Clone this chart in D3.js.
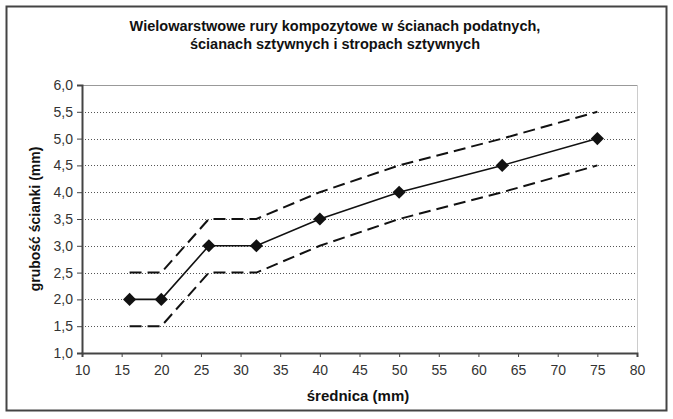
<!DOCTYPE html>
<html><head><meta charset="utf-8">
<script src="https://cdn.jsdelivr.net/npm/d3@7"></script>
<style>body{margin:0;background:#fff}svg{display:block}text{font-family:"Liberation Sans",Arial,sans-serif}</style>
</head><body><svg id="c" width="673" height="419"></svg>
<script>
const titleLines = ["Wielowarstwowe rury kompozytowe w ścianach podatnych,", "ścianach sztywnych i stropach sztywnych"];
const xLabel = "średnica (mm)";
const yLabel = "grubość ścianki (mm)";
const diameters = [16, 20, 26, 32, 40, 50, 63, 75];
const thickness = [2.0, 2.0, 3.0, 3.0, 3.5, 4.0, 4.5, 5.0];
const upperBound = [2.5, 2.5, 3.5, 3.5, 4.0, 4.5, 5.0, 5.5];
const lowerBound = [1.5, 1.5, 2.5, 2.5, 3.0, 3.5, 4.0, 4.5];
const xTicks = [10,15,20,25,30,35,40,45,50,55,60,65,70,75,80];
const yTicks = [1.0,1.5,2.0,2.5,3.0,3.5,4.0,4.5,5.0,5.5,6.0];

const svg = d3.select("#c");
const L = 82, R = 637, T = 85, B = 353;
const x = d3.scaleLinear().domain([10, 80]).range([L, R]);
const y = d3.scaleLinear().domain([1, 6]).range([B, T]);
const fmt = d => d.toFixed(1).replace(".", ",");

// outer frame
svg.append("rect").attr("x", 6.5).attr("y", 6.5).attr("width", 660).attr("height", 404)
  .attr("fill", "#fff").attr("stroke", "#444").attr("stroke-width", 2);

// title
const tt = svg.append("text").attr("text-anchor", "middle").attr("font-weight", "bold")
  .attr("font-size", 14.5).attr("fill", "#111");
titleLines.forEach((t, i) => tt.append("tspan").attr("x", 335).attr("y", 31 + i * 18).text(t));

// plot border (top/right)
svg.append("line").attr("x1", L).attr("x2", R).attr("y1", T + 0.5).attr("y2", T + 0.5).attr("stroke", "#999");
svg.append("line").attr("x1", R + 0.5).attr("x2", R + 0.5).attr("y1", T).attr("y2", B).attr("stroke", "#ccc");

// grid
svg.append("g").selectAll("line").data(yTicks.filter(v => v > 1 && v < 6)).join("line")
  .attr("x1", L).attr("x2", R).attr("y1", d => Math.round(y(d)) + 0.5).attr("y2", d => Math.round(y(d)) + 0.5)
  .attr("stroke", "#555").attr("stroke-width", 1).attr("stroke-dasharray", "1,2");

// axes
const gx = svg.append("g").attr("transform", `translate(0,${B})`)
  .call(d3.axisBottom(x).tickValues(xTicks).tickSize(4).tickPadding(8).tickFormat(d3.format("d")));
const gy = svg.append("g").attr("transform", `translate(${L},0)`)
  .call(d3.axisLeft(y).tickValues(yTicks).tickSize(5).tickPadding(4).tickFormat(fmt));
[gx, gy].forEach(g => {
  g.select(".domain").attr("stroke", "#444").attr("stroke-width", 2);
  g.selectAll(".tick line").attr("stroke", "#444");
  g.selectAll(".tick text").attr("font-size", 14).attr("fill", "#333")
    .attr("font-family", "'Liberation Sans',Arial,sans-serif");
});

// lines
const line = d3.line().x(d => x(d[0])).y(d => y(d[1]));
const zipped = arr => diameters.map((d, i) => [d, arr[i]]);
[upperBound, lowerBound].forEach(arr => {
  svg.append("path").attr("d", line(zipped(arr))).attr("fill", "none")
    .attr("stroke", "#111").attr("stroke-width", 2).attr("stroke-dasharray", "12,6");
});
svg.append("path").attr("d", line(zipped(thickness))).attr("fill", "none")
  .attr("stroke", "#111").attr("stroke-width", 1.6);
svg.append("g").selectAll("path").data(zipped(thickness)).join("path")
  .attr("transform", d => `translate(${x(d[0])},${y(d[1])})`)
  .attr("d", d3.symbol(d3.symbolDiamond2, 110)).attr("fill", "#111");

// axis labels
svg.append("text").attr("x", 358).attr("y", 401).attr("text-anchor", "middle")
  .attr("font-weight", "bold").attr("font-size", 15).attr("fill", "#111").text(xLabel);
svg.append("text").attr("transform", "translate(40,219) rotate(-90)").attr("text-anchor", "middle")
  .attr("font-weight", "bold").attr("font-size", 14).attr("fill", "#111").text(yLabel);
</script></body></html>
